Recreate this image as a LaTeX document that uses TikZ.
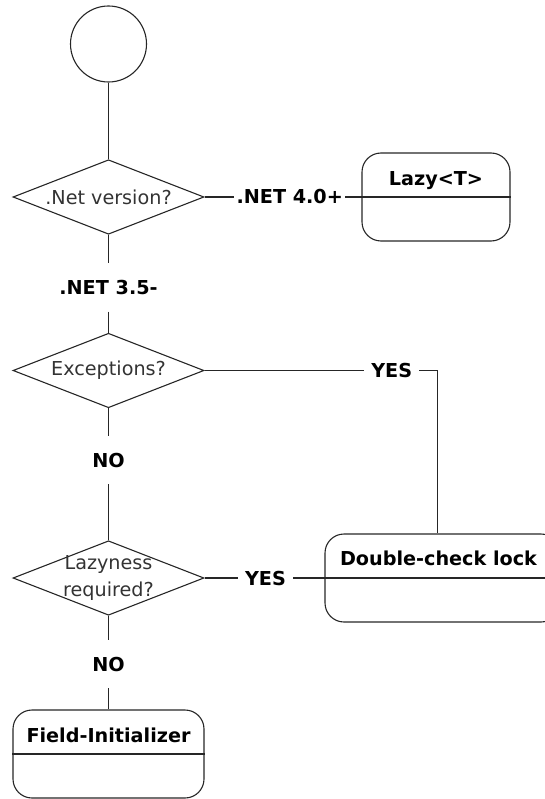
\documentclass[tikz,border=0pt]{standalone}
\usepackage{fontspec}
\setmainfont{DejaVu Sans}
\usetikzlibrary{shapes.geometric}

\begin{document}
\begin{tikzpicture}[
    x=1pt, y=-1pt,
    every node/.style={font=\fontsize{19.2}{27}\selectfont},
    wire/.style={draw=black!85, line width=1.1pt},
    decision/.style={
        diamond, wire, aspect=2.56,
        minimum width=191pt, minimum height=74.5pt,
        inner sep=0pt
    },
    question/.style={text=black!80, align=center, inner sep=0pt},
    rbox/.style={
        rectangle, wire, rounded corners=19pt,
        minimum height=88pt, inner sep=0pt
    },
    boxtitle/.style={
        font=\fontsize{19.2}{27}\selectfont\bfseries,
        anchor=base, inner sep=0pt
    },
    hlabel/.style={
        font=\fontsize{19.2}{27}\selectfont\bfseries,
        inner xsep=7pt, inner ysep=0pt,
        text height=14pt, text depth=0pt
    },
    vlabel/.style={hlabel, inner xsep=0pt, minimum height=48pt}
    ]

    \useasboundingbox (0,0) rectangle (545,799);
    \clip (0,0) rectangle (545,799);

    % start and decisions
    \node[circle, wire, minimum size=76pt, inner sep=0pt] (start) at (108.5,44) {};
    \node[decision] (version) at (108.5,197) {};
    \node[question] (versionq) at (version) {.Net version?};
    \node[decision] (except) at (108.5,370.5) {};
    \node[question] (exceptq) at (except) {Exceptions?};
    \node[decision] (lazyness) at (108.5,578) {};
    \node[question] (lazynessq) at (lazyness) {Lazyness\\required?};

    % results
    \node[rbox, minimum width=148pt] (lazy) at (436,197) {};
    \node[boxtitle] (lazytitle) at ([yshift=11pt]lazy.center) {Lazy<T>};
    \node[rbox, minimum width=235pt] (dcl) at (442.5,578) {};
    \node[boxtitle] (dcltitle) at (438.5,565) {Double-check lock};
    \node[rbox, minimum width=191pt] (field) at (108.5,754) {};
    \node[boxtitle] (fieldtitle) at ([yshift=12pt]field.center) {Field-Initializer};

    % edge labels
    \node[hlabel, inner xsep=2pt] (net40) at (289.7,197) {.NET 4.0+};
    \node[vlabel] (net35) at (108.5,287.5) {.NET 3.5-};
    \node[hlabel] (yes1) at (391.7,370.5) {YES};
    \node[vlabel] (no1) at (108.5,460) {NO};
    \node[hlabel] (yes2) at (265.5,578) {YES};
    \node[vlabel] (no2) at (108.5,664) {NO};
    \coordinate (bend) at (437.3,370.5);

    \draw[wire] (start.south) -- (version.north);
    \draw[wire] (version.east) -- (net40.west);
    \draw[wire] (net40.east) -- (lazy.east);
    \draw[wire] (version.south) -- (net35.north);
    \draw[wire] (net35.south) -- (except.north);
    \draw[wire] (except.east) -- (yes1.west);
    \draw[wire] (yes1.east) -- (bend) -- (bend |- dcl.north);
    \draw[wire] (except.south) -- (no1.north);
    \draw[wire] (no1.south) -- (lazyness.north);
    \draw[wire] (lazyness.east) -- (yes2.west);
    \draw[wire] (yes2.east) -- (dcl.east);
    \draw[wire] (lazyness.south) -- (no2.north);
    \draw[wire] (no2.south) -- (field.north);
    \draw[wire] (field.west) -- (field.east);
\end{tikzpicture}
\end{document}
